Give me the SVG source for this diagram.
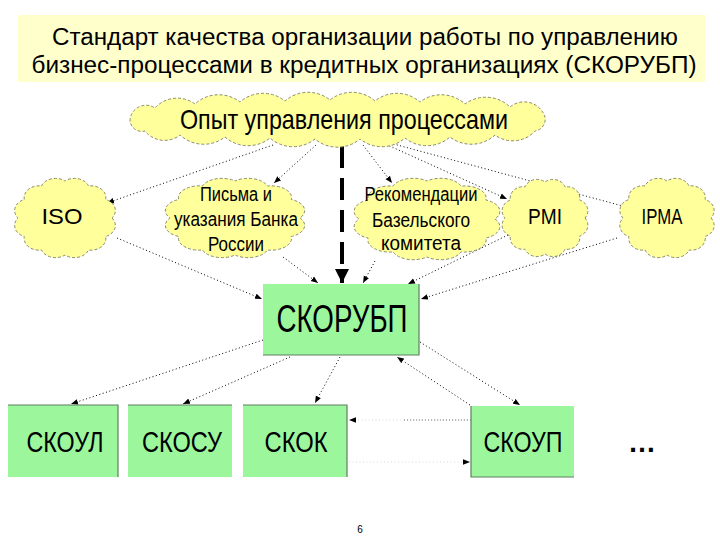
<svg xmlns="http://www.w3.org/2000/svg" xmlns:xlink="http://www.w3.org/1999/xlink" width="720" height="540" viewBox="0 0 720 540">
<style>
.t{font-family:"Liberation Sans",Arial,sans-serif;fill:#000}
.cl{fill:#ffff9c;stroke:#8a8a6a;stroke-width:1;stroke-dasharray:3 2}
.bx{fill:#9cf79c}
.sh{fill:none;stroke:#5f7f5f;stroke-width:1.2}
.c{fill:none;stroke:#000;stroke-width:1;stroke-dasharray:1 2.5;marker-end:url(#a)}
.cf{fill:none;stroke:#d8d8d8;stroke-width:1;stroke-dasharray:1 2.5;marker-end:url(#a)}
</style>
<defs>
<path id="cloud" vector-effect="non-scaling-stroke" d="M1,0 A.32,.32 0 0 1 .866,.5 A.32,.32 0 0 1 .5,.866 A.32,.32 0 0 1 0,1 A.32,.32 0 0 1 -.5,.866 A.32,.32 0 0 1 -.866,.5 A.32,.32 0 0 1 -1,0 A.32,.32 0 0 1 -.866,-.5 A.32,.32 0 0 1 -.5,-.866 A.32,.32 0 0 1 0,-1 A.32,.32 0 0 1 .5,-.866 A.32,.32 0 0 1 .866,-.5 A.32,.32 0 0 1 1,0 Z"/>
<marker id="a" viewBox="0 0 10 10" refX="10" refY="5" markerWidth="7" markerHeight="7" markerUnits="userSpaceOnUse" orient="auto"><path d="M0,1 L10,5 L0,9 Z" fill="#000"/></marker>
<marker id="A" viewBox="0 0 10 10" refX="10" refY="5" markerWidth="14" markerHeight="14" markerUnits="userSpaceOnUse" orient="auto"><path d="M0,0 L10,5 L0,10 Z" fill="#000"/></marker>
</defs>
<rect width="720" height="540" fill="#fff"/>

<g id="title">
<rect x="18" y="15" width="687" height="67" fill="#ffffcc"/>
<text class="t" x="365" y="45" font-size="23" text-anchor="middle" textLength="626" lengthAdjust="spacingAndGlyphs">Стандарт качества организации работы по управлению</text>
<text class="t" x="364" y="73" font-size="23" text-anchor="middle" textLength="665" lengthAdjust="spacingAndGlyphs">бизнес-процессами в кредитных организациях (СКОРУБП)</text>
</g>

<g id="connectors">
<line x1="342" y1="146" x2="342" y2="283" stroke="#000" stroke-width="4" stroke-dasharray="22 10" marker-end="url(#A)"/>
<line class="c" x1="273" y1="145" x2="107" y2="203"/>
<line class="c" x1="316" y1="145" x2="274" y2="183"/>
<line class="c" x1="363" y1="145" x2="392" y2="183"/>
<line class="c" x1="383" y1="143" x2="507" y2="199"/>
<line class="c" x1="390" y1="143" x2="630" y2="208"/>
<line class="c" x1="117" y1="238" x2="262" y2="299"/>
<line class="c" x1="283" y1="257" x2="318" y2="283"/>
<line class="c" x1="375" y1="261" x2="363" y2="283"/>
<line class="c" x1="508" y1="235" x2="408" y2="284"/>
<line class="c" x1="617" y1="238" x2="421" y2="299"/>
<line class="c" x1="263" y1="340" x2="71" y2="404"/>
<line class="c" x1="290" y1="357" x2="183" y2="404"/>
<line class="c" x1="340" y1="357" x2="315" y2="403"/>
<line class="c" x1="420" y1="342" x2="520" y2="405"/>
<line class="c" x1="470" y1="405" x2="397" y2="357"/>
<line class="cf" x1="471" y1="420" x2="349" y2="420"/>
<line x1="471" y1="420" x2="403" y2="420" stroke="#777" stroke-width="1" stroke-dasharray="1 2"/>
<line class="cf" x1="349" y1="462" x2="470" y2="462"/>
</g>

<g id="top-cloud">
<path fill="#ffff9c" stroke="#8a8a6a" stroke-width="1" stroke-dasharray="3 2" d="M130,121 A16,16 0 0 1 155,108 A30,30 0 0 1 195,104 A35,35 0 0 1 240,102 A35,35 0 0 1 285,101 A35,35 0 0 1 330,100 A35,35 0 0 1 375,101 A35,35 0 0 1 420,102 A35,35 0 0 1 465,104 A35,35 0 0 1 510,107 A22,22 0 0 1 545,117 A12,12 0 0 1 535,131 A30,30 0 0 1 495,135 A35,35 0 0 1 450,137 A35,35 0 0 1 405,138 A35,35 0 0 1 360,139 A35,35 0 0 1 315,139 A35,35 0 0 1 270,138 A35,35 0 0 1 225,137 A35,35 0 0 1 180,135 A25,25 0 0 1 145,131 A12,12 0 0 1 130,121 Z"/>
<text class="t" x="344" y="129" font-size="28" text-anchor="middle" textLength="328" lengthAdjust="spacingAndGlyphs">Опыт управления процессами</text>
</g>

<g id="iso">
<use xlink:href="#cloud" href="#cloud" class="cl" transform="translate(65,218) scale(47,37)"/>
<text class="t" x="62" y="224" font-size="22" text-anchor="middle" textLength="41" lengthAdjust="spacingAndGlyphs">ISO</text>
</g>

<g id="pisma">
<use xlink:href="#cloud" href="#cloud" class="cl" transform="translate(235,218) scale(65,37)"/>
<text class="t" x="236" y="201" font-size="20" text-anchor="middle" textLength="72" lengthAdjust="spacingAndGlyphs">Письма и</text>
<text class="t" x="236" y="226" font-size="20" text-anchor="middle" textLength="124" lengthAdjust="spacingAndGlyphs">указания Банка</text>
<text class="t" x="236" y="251" font-size="20" text-anchor="middle" textLength="56" lengthAdjust="spacingAndGlyphs">России</text>
</g>

<g id="basel">
<use xlink:href="#cloud" href="#cloud" class="cl" transform="translate(427,219) scale(68,38)"/>
<text class="t" x="421" y="201" font-size="20" text-anchor="middle" textLength="113" lengthAdjust="spacingAndGlyphs">Рекомендации</text>
<text class="t" x="421" y="227" font-size="20" text-anchor="middle" textLength="98" lengthAdjust="spacingAndGlyphs">Базельского</text>
<text class="t" x="421" y="250" font-size="20" text-anchor="middle" textLength="80" lengthAdjust="spacingAndGlyphs">комитета</text>
</g>

<g id="pmi">
<use xlink:href="#cloud" href="#cloud" class="cl" transform="translate(545,218) scale(40,36)"/>
<text class="t" x="545" y="224" font-size="22" text-anchor="middle" textLength="34" lengthAdjust="spacingAndGlyphs">PMI</text>
</g>

<g id="ipma">
<use xlink:href="#cloud" href="#cloud" class="cl" transform="translate(667,218) scale(44,37)"/>
<text class="t" x="662" y="224" font-size="22" text-anchor="middle" textLength="41" lengthAdjust="spacingAndGlyphs">IPMA</text>
</g>

<g id="skorubp">
<rect class="bx" x="263" y="284" width="156" height="71"/>
<path class="sh" d="M419,284 V355 H263"/>
<text class="t" x="342" y="332" font-size="38" text-anchor="middle" textLength="131" lengthAdjust="spacingAndGlyphs">СКОРУБП</text>
</g>

<g id="skoul">
<rect class="bx" x="8" y="405" width="110" height="72"/>
<path class="sh" d="M8,405 H118 V477"/>
<text class="t" x="65" y="452" font-size="29" text-anchor="middle" textLength="77" lengthAdjust="spacingAndGlyphs">СКОУЛ</text>
</g>

<g id="skosu">
<rect class="bx" x="128" y="405" width="104" height="72"/>
<path class="sh" d="M128,405 H232"/>
<text class="t" x="182" y="452" font-size="29" text-anchor="middle" textLength="80" lengthAdjust="spacingAndGlyphs">СКОСУ</text>
</g>

<g id="skok">
<rect class="bx" x="243" y="405" width="104" height="72"/>
<path class="sh" d="M243,405 H347 V477"/>
<text class="t" x="296" y="452" font-size="29" text-anchor="middle" textLength="63" lengthAdjust="spacingAndGlyphs">СКОК</text>
</g>

<g id="skoup">
<rect class="bx" x="471" y="406" width="103" height="71"/>
<path class="sh" d="M471,406 V477 H574"/>
<text class="t" x="523" y="452" font-size="29" text-anchor="middle" textLength="79" lengthAdjust="spacingAndGlyphs">СКОУП</text>
</g>

<g id="more">
<text class="t" x="642" y="452" font-size="28" font-weight="bold" text-anchor="middle" textLength="28" lengthAdjust="spacingAndGlyphs">…</text>
</g>

<text class="t" x="360" y="533" font-size="10" text-anchor="middle">6</text>
</svg>
